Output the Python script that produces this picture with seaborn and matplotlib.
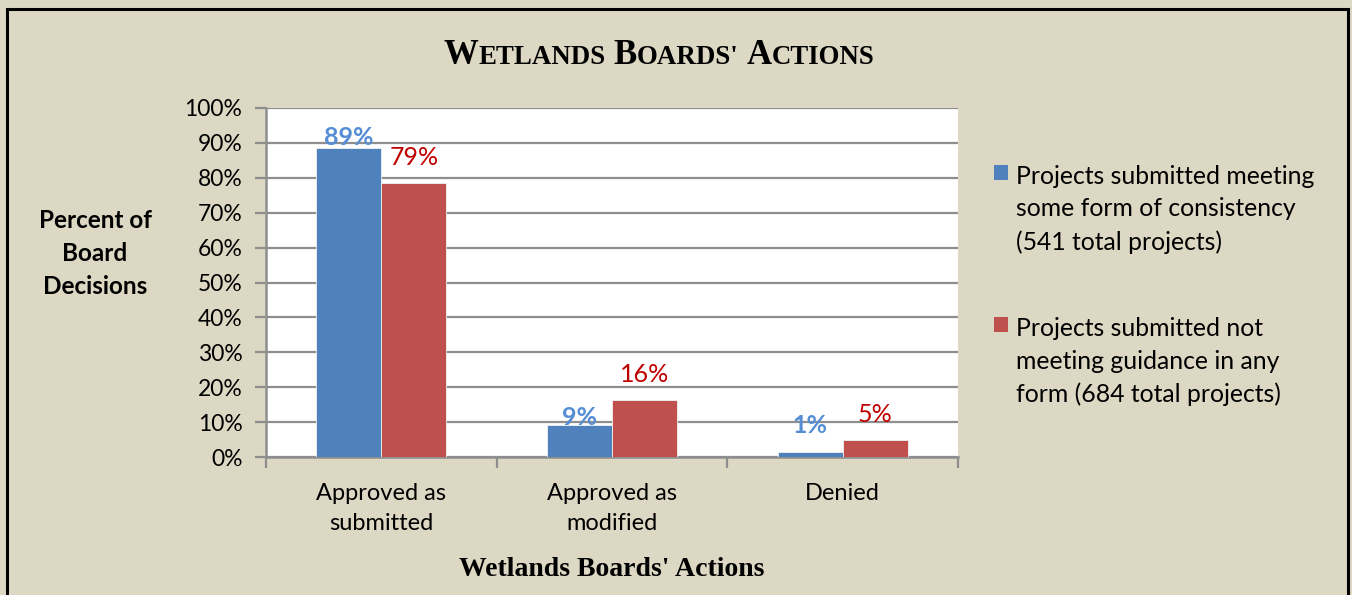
import matplotlib
matplotlib.use("Agg")
import matplotlib.pyplot as plt
import seaborn as sns
import pandas as pd
from matplotlib.offsetbox import TextArea, HPacker, AnchoredOffsetbox
from matplotlib.patches import Rectangle, Patch
from matplotlib.ticker import FixedLocator, FuncFormatter

# ---------------- data ----------------
categories = ["Approved as\nsubmitted", "Approved as\nmodified", "Denied"]
series_names = [
    "Projects submitted meeting\nsome form of consistency\n(541 total projects)",
    "Projects submitted not\nmeeting guidance in any\nform (684 total projects)",
]
consistent_values = [88.6, 9.2, 1.5]
not_consistent_values = [78.6, 16.3, 5.0]
consistent_labels = ["89%", "9%", "1%"]
not_consistent_labels = ["79%", "16%", "5%"]
y_ticks = [0, 10, 20, 30, 40, 50, 60, 70, 80, 90, 100]
title_parts = [("W", "ETLANDS"), ("B", "OARDS'"), ("A", "CTIONS")]
y_label = "Percent of\nBoard\nDecisions"
x_label = "Wetlands Boards' Actions"

# ---------------- style ----------------
BG = "#DDD8C3"
BLUE = "#4F81BD"
RED = "#C0504D"
BLUE_TXT = "#558ED5"
RED_TXT = "#C00000"
GRID = "#8E8E8E"
SANS = ["Lato", "DejaVu Sans"]
SERIF = ["Liberation Serif", "DejaVu Serif"]

sns.set_theme(style="white")
plt.rcParams["font.family"] = SANS
plt.rcParams["text.color"] = "black"
plt.rcParams["axes.labelcolor"] = "black"
plt.rcParams["xtick.color"] = "black"
plt.rcParams["ytick.color"] = "black"

df = pd.DataFrame({
    "category": categories * 2,
    "series": [series_names[0]] * 3 + [series_names[1]] * 3,
    "value": consistent_values + not_consistent_values,
})

W, H = 1352, 595
fig = plt.figure(figsize=(W / 100, H / 100), dpi=100, facecolor=BG)
ax = fig.add_axes([266 / W, 1 - 457 / H, (958 - 266) / W, (457 - 108) / H])
ax.set_facecolor("white")

sns.barplot(data=df, x="category", y="value", hue="series",
            palette=[BLUE, RED], width=0.565, saturation=1,
            edgecolor="#F2F2F2", linewidth=0.6, ax=ax, legend=False, zorder=3)

ax.set_ylim(0, 100)
ax.set_xlim(-0.5, 2.5)
ax.yaxis.set_major_locator(FixedLocator(y_ticks))
ax.yaxis.set_major_formatter(FuncFormatter(lambda v, p: f"{int(v)}%"))
ax.grid(axis="y", color=GRID, linewidth=1.6, zorder=0)
ax.set_axisbelow(True)

for s in ["top", "right"]:
    ax.spines[s].set_visible(False)
for s in ["left", "bottom"]:
    ax.spines[s].set_color(GRID)
    ax.spines[s].set_linewidth(1.8)

ax.tick_params(axis="y", which="major", length=8, width=1.6, color=GRID,
               direction="out", left=True, labelsize=16.5, pad=9, labelcolor="black")
ax.set_xticks(range(len(categories)))
ax.set_xticklabels(categories, fontsize=17, linespacing=1.5)
ax.tick_params(axis="x", which="major", length=0, pad=19, labelcolor="black")
ax.xaxis.set_minor_locator(FixedLocator([-0.5, 0.5, 1.5, 2.5]))
ax.tick_params(axis="x", which="minor", length=8, width=1.6, color=GRID,
               direction="out", bottom=True)

ax.set_ylabel(y_label, rotation=0, fontsize=17.5, fontweight="bold",
              ha="center", va="center", linespacing=1.55)
ax.yaxis.set_label_coords(-0.247, 0.583)
ax.set_xlabel(x_label, fontsize=20, fontweight="bold", family=SERIF,
              va="center")
ax.xaxis.set_label_coords(0.5, -0.322)

# value labels
label_sets = [(consistent_labels, BLUE_TXT, "bold", [3, 0, 19]),
              (not_consistent_labels, RED_TXT, "normal", [18, 18, 18])]
for cont, (labs, col, wt, offs) in zip(ax.containers, label_sets):
    for bar, lab, off in zip(cont.patches, labs, offs):
        ax.annotate(lab, (bar.get_x() + bar.get_width() / 2, bar.get_height()),
                    xytext=(0, off * 0.72), textcoords="offset points",
                    ha="center", va="baseline", color=col, fontsize=18,
                    fontweight=wt, zorder=5, annotation_clip=False)

# legend
handles = [Patch(facecolor=BLUE, edgecolor="none"),
           Patch(facecolor=RED, edgecolor="none")]
leg = ax.legend(handles, series_names, loc="upper left",
                bbox_to_anchor=(994 / W, 1 - 165 / H), bbox_transform=fig.transFigure,
                frameon=False, fontsize=17.8, handlelength=0.55, handleheight=0.55,
                handletextpad=0.35, labelspacing=2.57, borderaxespad=0, borderpad=0)
for t in leg.get_texts():
    t.set_linespacing(1.5)
    t.set_color("black")
for col in leg._legend_handle_box.get_children():
    for item in col.get_children():
        item.align = "top"

# title in small caps
words = []
for big, small in title_parts:
    words.append(HPacker(children=[
        TextArea(big, textprops=dict(fontsize=25, fontweight="bold", family=SERIF, color="black")),
        TextArea(small, textprops=dict(fontsize=19.4, fontweight="bold", family=SERIF, color="black")),
    ], sep=0, align="baseline", pad=0))
title_box = HPacker(children=words, sep=6, align="baseline", pad=0)
anch = AnchoredOffsetbox(loc="center", child=title_box, frameon=False,
                         bbox_to_anchor=(659 / W, 1 - 56 / H),
                         bbox_transform=fig.transFigure, pad=0, borderpad=0)
fig.add_artist(anch)

# outer frame
fig.add_artist(Rectangle((7 / W, -0.05), (1348 - 7) / W, 1.05 - 9 / H,
                         transform=fig.transFigure, fill=False,
                         edgecolor="black", linewidth=2.2))

fig.savefig("out.png", dpi=100, facecolor=BG)
